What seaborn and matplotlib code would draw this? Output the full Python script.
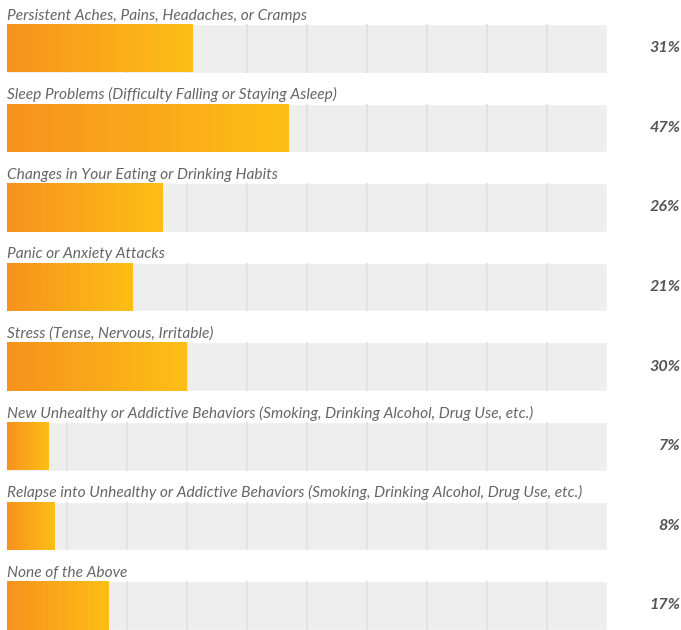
import numpy as np
import pandas as pd
import matplotlib
matplotlib.use("Agg")
import matplotlib.pyplot as plt
from matplotlib.colors import LinearSegmentedColormap
import seaborn as sns

categories = [
    "Persistent Aches, Pains, Headaches, or Cramps",
    "Sleep Problems (Difficulty Falling or Staying Asleep)",
    "Changes in Your Eating or Drinking Habits",
    "Panic or Anxiety Attacks",
    "Stress (Tense, Nervous, Irritable)",
    "New Unhealthy or Addictive Behaviors (Smoking, Drinking Alcohol, Drug Use, etc.)",
    "Relapse into Unhealthy or Addictive Behaviors (Smoking, Drinking Alcohol, Drug Use, etc.)",
    "None of the Above",
]
percent = [31, 47, 26, 21, 30, 7, 8, 17]
track_max = [100] * len(categories)
grid_ticks = [10, 20, 30, 40, 50, 60, 70, 80, 90]

df = pd.DataFrame({"category": categories, "percent": percent, "track": track_max})

sns.set_theme(style="white")
plt.rcParams["font.family"] = ["Lato", "DejaVu Sans"]

W, H = 681, 630
fig = plt.figure(figsize=(W / 100, H / 100), dpi=100)
# plotting area spans the track width (px 7..607) and the full height
ax = fig.add_axes([7 / W, 0, 600 / W, 1])

pitch = 79.6          # px between rows
bar_px = 48.5         # px bar thickness
bar_h = bar_px / pitch
first_center = 24 + bar_px / 2

# grey background tracks
sns.barplot(data=df, x="track", y="category", orient="h", color="#eeeeee",
            width=bar_h, saturation=1, ax=ax, zorder=1)
# value bars
sns.barplot(data=df, x="percent", y="category", orient="h", color="#f7941d",
            width=bar_h, saturation=1, ax=ax, zorder=3)

ax.set_xlim(0, 100)
ax.set_ylim((H - first_center) / pitch, -first_center / pitch)

# light dividers inside each track
for i in range(len(categories)):
    ax.vlines(grid_ticks, i - bar_h / 2, i + bar_h / 2, color="#e3e3e3",
              lw=1.5, zorder=2)

# orange-to-yellow gradient fill on each value bar
cmap = LinearSegmentedColormap.from_list("warm", ["#f7921e", "#fdbf16"])
grad = np.linspace(0, 1, 256).reshape(1, -1)
value_patches = ax.patches[len(categories):]
for p in value_patches:
    x0, y0 = p.get_x(), p.get_y()
    w, h = p.get_width(), p.get_height()
    p.set_facecolor("none")
    p.set_edgecolor("none")
    im = ax.imshow(grad, cmap=cmap, aspect="auto", interpolation="bicubic",
                   extent=[x0, x0 + w, y0 + h, y0], zorder=3)
    im.set_clip_path(p)
ax.set_xlim(0, 100)
ax.set_ylim((H - first_center) / pitch, -first_center / pitch)

# category labels above each bar and values at the right
for i, (cat, val) in enumerate(zip(categories, percent)):
    ax.text(0, i - bar_h / 2 - 0.055, cat, ha="left", va="baseline",
            fontsize=11.2, style="italic", color="#666666", zorder=5)
    ax.text(112.2, i, f"{val}%", ha="right", va="center",
            fontsize=11.6, style="italic", fontweight="bold",
            color="#555555", clip_on=False, zorder=5)

ax.set_xlabel("")
ax.set_ylabel("")
ax.set_xticks([])
ax.set_yticks([])
for s in ax.spines.values():
    s.set_visible(False)
ax.set_facecolor("white")

fig.savefig("out.png", dpi=100, facecolor="white")
